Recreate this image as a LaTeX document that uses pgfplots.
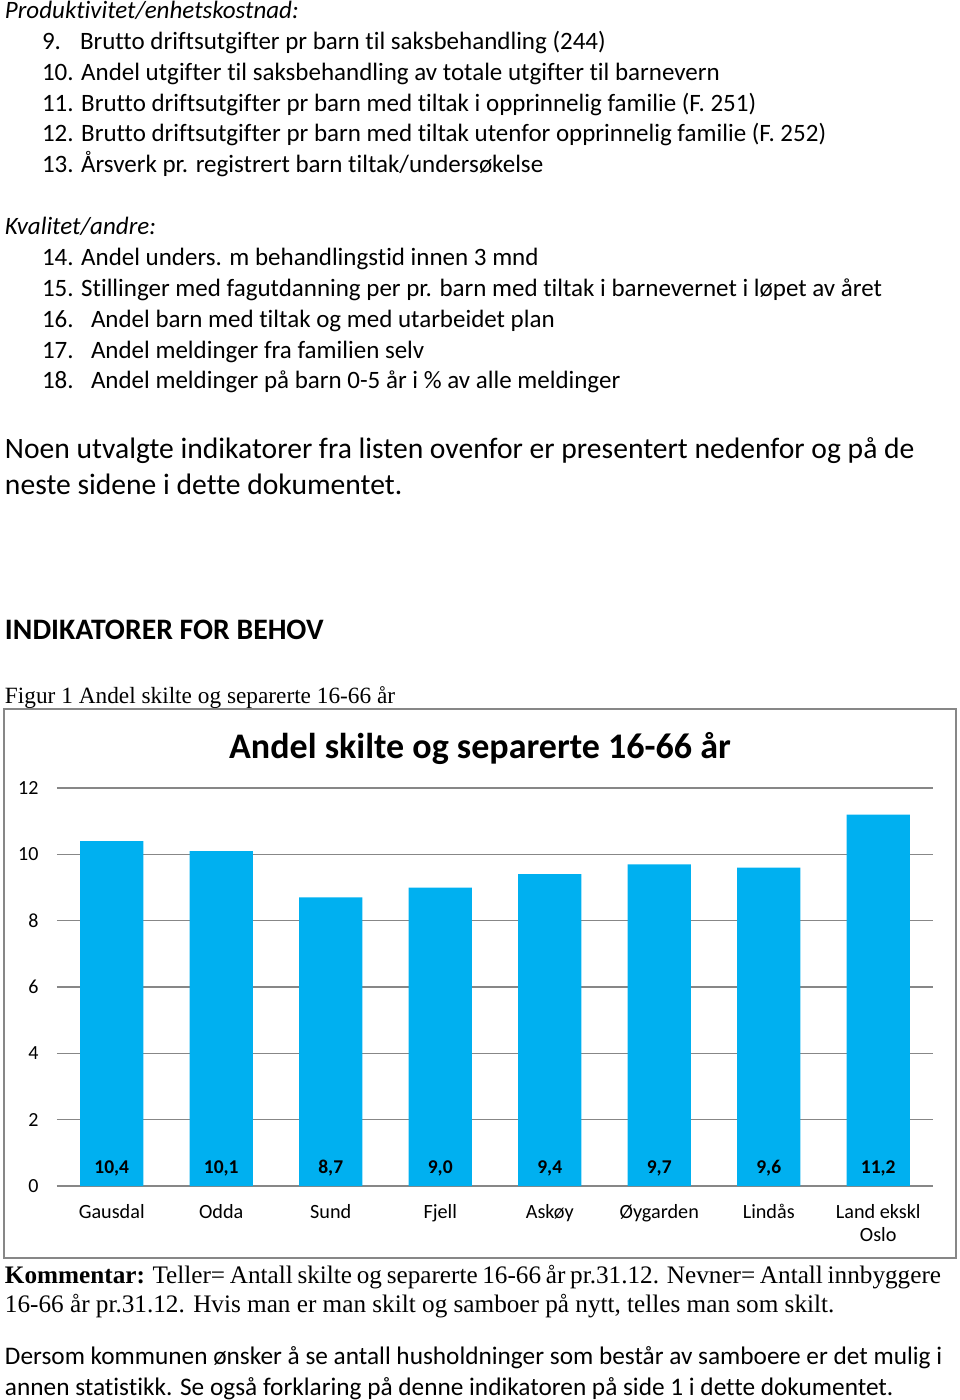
\documentclass[border=0pt]{standalone}
\usepackage{pgfplots}
\pgfplotsset{compat=1.18}
\usepackage{fontspec}
\setmainfont{Carlito}[Ligatures=NoCommon]
\newfontfamily\tnr{Liberation Serif}
\definecolor{barblue}{HTML}{00B0F0}
\definecolor{gridgray}{HTML}{878787}
\newcommand\fs[1]{\fontsize{#1}{#1}\selectfont}
\begin{document}
\begin{tikzpicture}
\path[use as bounding box] (0pt,0pt) rectangle (960pt,-1400pt);
\begin{scope}[x=1pt,y=1pt,every node/.style={inner sep=0pt,outer sep=0pt}]
% list
\node[anchor=base west,font=\fs{25}\itshape] at (5,-19) {Produktivitet/enhetskostnad:};
\node[anchor=base west,font=\fs{25}] at (42,-49) {9.};
\node[anchor=base west,font=\fs{25}] at (80,-49) {Brutto driftsutgifter pr barn til saksbehandling (244)};
\node[anchor=base west,font=\fs{25}] at (42,-80) {10. Andel utgifter til saksbehandling av totale utgifter til barnevern};
\node[anchor=base west,font=\fs{25}] at (42,-111) {11. Brutto driftsutgifter pr barn med tiltak i opprinnelig familie (F. 251)};
\node[anchor=base west,font=\fs{25}] at (42,-141) {12. Brutto driftsutgifter pr barn med tiltak utenfor opprinnelig familie (F. 252)};
\node[anchor=base west,font=\fs{25}] at (42,-172) {13. Årsverk pr. registrert barn tiltak/undersøkelse};
\node[anchor=base west,font=\fs{25}\itshape] at (5,-234) {Kvalitet/andre:};
\node[anchor=base west,font=\fs{25}] at (42,-265) {14. Andel unders. m behandlingstid innen 3 mnd};
\node[anchor=base west,font=\fs{25}] at (42,-296) {15. Stillinger med fagutdanning per pr. barn med tiltak i barnevernet i løpet av året};
\node[anchor=base west,font=\fs{25}] at (42,-327) {16.};
\node[anchor=base west,font=\fs{25}] at (91,-327) {Andel barn med tiltak og med utarbeidet plan};
\node[anchor=base west,font=\fs{25}] at (42,-358) {17.};
\node[anchor=base west,font=\fs{25}] at (91,-358) {Andel meldinger fra familien selv};
\node[anchor=base west,font=\fs{25}] at (42,-388) {18.};
\node[anchor=base west,font=\fs{25}] at (91,-388) {Andel meldinger på barn 0-5 år i \% av alle meldinger};
% paragraph
\node[anchor=base west,font=\fs{29.6}] at (5,-458) {Noen utvalgte indikatorer fra listen ovenfor er presentert nedenfor og på de};
\node[anchor=base west,font=\fs{29.6}] at (5,-494) {neste sidene i dette dokumentet.};
\node[anchor=base west,font=\fs{29.7}\bfseries] at (5,-639) {INDIKATORER FOR BEHOV};
\node[anchor=base west,font=\fs{23.3}\tnr] at (5,-703) {Figur 1 Andel skilte og separerte 16-66 år};
% chart frame and title
\draw[gridgray,line width=1.2pt] (4,-709) rectangle (956,-1258);
\node[anchor=base,font=\fs{36}\bfseries] at (480,-758) {Andel skilte og separerte 16-66 år};
% comments
\node[anchor=base west,font=\fs{25.2}\tnr] at (5,-1283)
  {\makebox[936pt][s]{\textbf{Kommentar:} Teller= Antall skilte og separerte 16-66 år pr.31.12. Nevner= Antall innbyggere}};
\node[anchor=base west,font=\fs{25.2}\tnr] at (5,-1312)
  {16-66 år pr.31.12. Hvis man er man skilt og samboer på nytt, telles man som skilt.};
\node[anchor=base west,font=\fs{25.3}] at (5,-1364) {Dersom kommunen ønsker å se antall husholdninger som består av samboere er det mulig i};
\node[anchor=base west,font=\fs{25.3}] at (5,-1395) {annen statistikk. Se også forklaring på denne indikatoren på side 1 i dette dokumentet.};
\end{scope}
\begin{axis}[
    at={(57pt,-1186pt)}, anchor=south west,
    scale only axis, width=876pt, height=398pt,
    xmin=-0.5, xmax=7.5, ymin=0, ymax=12,
    ytick={0,2,4,6,8,10,12},
    xtick={0,1,2,3,4,5,6,7},
    xticklabels={Gausdal,Odda,Sund,Fjell,Askøy,Øygarden,Lindås,{Land ekskl\\Oslo}},
    ymajorgrids=true,
    grid style={gridgray,line width=1.4pt},
    axis x line*=bottom,
    axis y line*=left,
    x axis line style={gridgray,line width=1.4pt,-},
    y axis line style={draw=none},
    tick style={draw=none},
    /pgf/number format/assume math mode=true,
    ticklabel style={font=\fs{20}},
    yticklabel style={xshift=-15pt},
    xticklabel style={yshift=-15pt,align=center,font=\fontsize{20.2}{23}\selectfont},
    clip=false,
]
\addplot[ybar, bar width=63pt, fill=barblue, draw=none]
    coordinates {(0,10.4)(1,10.1)(2,8.7)(3,9.0)(4,9.4)(5,9.7)(6,9.6)(7,11.2)};
\addplot[draw=none, mark=none, point meta=explicit,
    nodes near coords={\pgfmathprintnumber[fixed,fixed zerofill,precision=1,use comma,assume math mode=true]{\pgfplotspointmeta}},
    nodes near coords style={anchor=base,inner sep=0pt,font=\fs{19.5}\bfseries}]
    coordinates {(0,0.38)[10.4] (1,0.38)[10.1] (2,0.38)[8.7] (3,0.38)[9.0] (4,0.38)[9.4] (5,0.38)[9.7] (6,0.38)[9.6] (7,0.38)[11.2]};
\end{axis}
\end{tikzpicture}
\end{document}
